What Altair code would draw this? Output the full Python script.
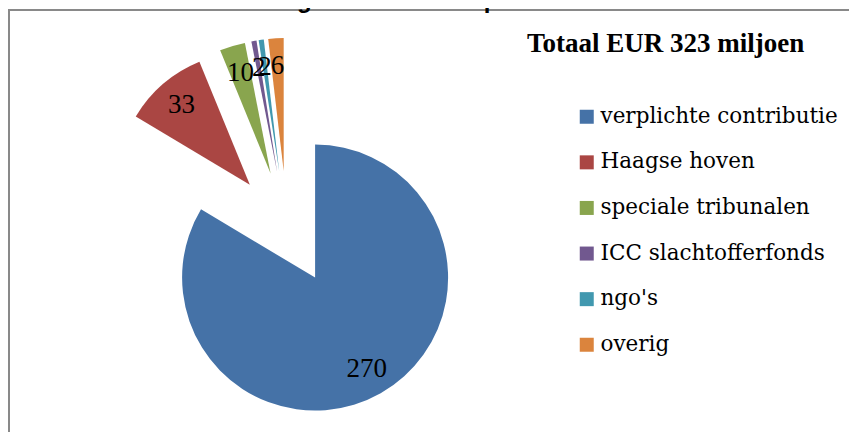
import altair as alt
import pandas as pd

categories = ["verplichte contributie", "Haagse hoven", "speciale tribunalen",
              "ICC slachtofferfonds", "ngo's", "overig"]
values = [270, 33, 10, 2, 2, 6]
colors = ["#4572A7", "#AA4643", "#89A54E", "#71588F", "#4198AF", "#DB843D"]
chart_title = "Verdeling over onderwerpen"
legend_title = "Totaal EUR 323 miljoen"

df = pd.DataFrame({"cat": categories, "val": values, "idx": list(range(len(values)))})

W, H = 841, 424
CX, CY = 279, 220      # pie centre (chart coords)
R = 133                # pie radius
EXPLODE = 57           # explosion distance
LABEL_R = 162

base = alt.Chart(df).transform_joinaggregate(
    total="sum(val)"
).transform_window(
    cum="sum(val)", sort=[alt.SortField("idx")], frame=[None, 0]
).transform_calculate(
    t0="2*PI*(datum.cum - datum.val)/datum.total",
    t1="2*PI*datum.cum/datum.total",
).transform_calculate(
    mid="(datum.t0 + datum.t1)/2"
).transform_calculate(
    px=f"{CX} + {EXPLODE}*sin(datum.mid)",
    py=f"{CY} - {EXPLODE}*cos(datum.mid)",
)

color = alt.Color(
    "cat:N",
    scale=alt.Scale(domain=categories, range=colors),
    legend=alt.Legend(
        title=None, orient="none", legendX=568, legendY=98,
        symbolType="square", symbolSize=196, symbolStrokeWidth=0,
        labelFont="DejaVu Serif", labelFontSize=21.5, labelColor="#000000",
        labelOffset=3, rowPadding=22.6, labelLimit=400,
    ),
)

arcs = base.mark_arc(radius=R, stroke=None).encode(
    x=alt.X("px:Q", scale=None, axis=None),
    y=alt.Y("py:Q", scale=None, axis=None),
    theta=alt.Theta("t0:Q", scale=None),
    theta2="t1:Q",
    color=color,
)

labels = base.mark_text(
    radius=LABEL_R, font="Liberation Serif", fontSize=27, color="#000000",
    align="center", baseline="middle",
).encode(
    x=alt.value(CX),
    y=alt.value(CY),
    theta=alt.Theta("mid:Q", scale=None),
    text=alt.Text("val:Q"),
)

legend_title_mark = alt.Chart(pd.DataFrame({"t": [legend_title]})).mark_text(
    font="Liberation Serif", fontSize=27, fontWeight="bold", color="#000000",
    align="left", baseline="alphabetic",
).encode(x=alt.value(519), y=alt.value(44), text="t:N")

title_mark = alt.Chart(pd.DataFrame({"t": [chart_title]})).mark_text(
    font="Liberation Sans", fontSize=24, fontWeight="bold", color="#000000",
    align="center", baseline="alphabetic",
).encode(x=alt.value(357), y=alt.value(0), text="t:N")

frame_top = alt.Chart(pd.DataFrame({"a": [0]})).mark_rule(
    color="#898989", strokeWidth=2
).encode(x=alt.value(0), x2=alt.value(W), y=alt.value(2))

frame_left = alt.Chart(pd.DataFrame({"a": [0]})).mark_rule(
    color="#898989", strokeWidth=2
).encode(x=alt.value(1), y=alt.value(1), y2=alt.value(H))

chart = alt.layer(
    frame_top, frame_left, arcs, labels, legend_title_mark, title_mark
).properties(
    width=W, height=H,
    autosize=alt.AutoSizeParams(type="none"),
    padding=0,
).configure_view(stroke=None)

chart.save("out.html", embed_options={"renderer": "svg", "actions": False})
